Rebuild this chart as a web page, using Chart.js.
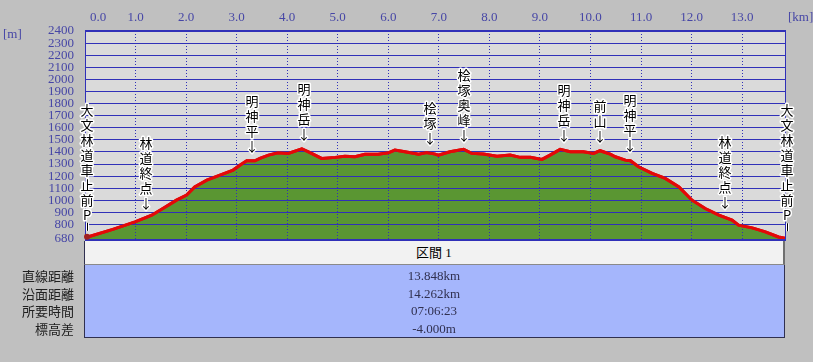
<!DOCTYPE html>
<html>
<head>
<meta charset="utf-8">
<script src="https://cdn.jsdelivr.net/npm/chart.js@4.4.1/dist/chart.umd.min.js"></script>
<style>
html, body { margin: 0; padding: 0; background: #c0c0c0; }
#wrap { position: relative; width: 813px; height: 362px; overflow: hidden; }
#chart { position: absolute; left: 0; top: 0; }
.unit { position: absolute; font: 13px "Liberation Serif", serif; color: #4646a6; line-height: 16px; }
#head { position: absolute; left: 84px; top: 241px; width: 698px; height: 23px; background: #f2f2f2;
  border-left: 1px solid #303050; border-right: 2px solid #707070; border-bottom: 1px solid #8a8a8a;
  text-align: center; font: 13px "Liberation Serif", "Noto Sans CJK JP", serif; line-height: 24px; color: #000; }
#body { position: absolute; left: 84px; top: 265px; width: 699px; height: 72px; background: #a5b6fc;
  border: 1px solid #303050; border-top: none; }
.row { position: absolute; height: 18px; line-height: 18px; font-size: 13px; }
.lab { left: 0; width: 74px; text-align: right; font-family: "Noto Sans CJK JP", sans-serif; color: #202020; }
.val { left: 84px; width: 700px; text-align: center; font-family: "Liberation Serif", serif; color: #303050; }
</style>
</head>
<body>
<div id="wrap">
  <canvas id="chart" width="813" height="362"></canvas>
  <div class="unit" style="left:3px;top:26px;">[m]</div>
  <div class="unit" style="left:788px;top:9px;">[km]</div>
  <div id="head"></div>
  <div id="body"></div>
</div>
<script>
// 距離 [km] と 標高 [m]
var distKm = [0, 0.55, 0.99, 1.32, 1.54, 1.81, 2.01, 2.17, 2.41, 2.67, 2.93, 3.07, 3.20, 3.36, 3.46,
  3.63, 3.82, 4.02, 4.29, 4.42, 4.68, 4.95, 5.14, 5.34, 5.54, 5.80, 6.00, 6.13, 6.33, 6.60,
  6.76, 6.93, 6.99, 7.22, 7.49, 7.65, 7.88, 8.15, 8.41, 8.61, 8.81, 9.04, 9.20, 9.40, 9.60,
  9.86, 10.06, 10.19, 10.39, 10.49, 10.69, 10.79, 10.95, 11.22, 11.48, 11.75, 12.01, 12.27,
  12.54, 12.80, 12.93, 13.20, 13.46, 13.72, 13.848];
var elevM = [690, 759, 822, 877, 932, 1001, 1043, 1111, 1167, 1208, 1250, 1291, 1327, 1327, 1346,
  1374, 1393, 1388, 1425, 1401, 1346, 1355, 1365, 1360, 1380, 1380, 1393, 1415, 1401, 1382,
  1396, 1382, 1374, 1401, 1421, 1388, 1382, 1365, 1374, 1355, 1355, 1338, 1374, 1421, 1401,
  1401, 1388, 1410, 1382, 1360, 1332, 1327, 1277, 1222, 1181, 1111, 1001, 932,
  877, 836, 794, 772, 739, 697, 686];

var xTicks = [0, 1, 2, 3, 4, 5, 6, 7, 8, 9, 10, 11, 12, 13];
var yTicks = [680, 800, 900, 1000, 1100, 1200, 1300, 1400, 1500, 1600, 1700, 1800, 1900,
  2000, 2100, 2200, 2300, 2400];

var waypointNames = ["大文林道車止前P", "林道終点", "明神平", "明神岳", "桧塚", "桧塚奥峰",
  "明神岳", "前山", "明神平", "林道終点", "大文林道車止前P"];
var waypointKm = [0, 1.16, 3.26, 4.29, 6.79, 7.46, 9.44, 10.15, 10.75, 12.63, 13.848];

var sectionName = "区間 1";
var rowLabels = ["直線距離", "沿面距離", "所要時間", "標高差"];
var rowValues = ["13.848km", "14.262km", "07:06:23", "-4.000m"];

// 表
document.getElementById("head").textContent = sectionName;
var wrap = document.getElementById("wrap");
for (var i = 0; i < rowLabels.length; i++) {
  var rowTop = 267 + i * 17.6;
  var l = document.createElement("div");
  l.className = "row lab";
  l.style.top = rowTop + "px";
  l.textContent = rowLabels[i];
  wrap.appendChild(l);
  var v = document.createElement("div");
  v.className = "row val";
  v.style.top = rowTop + "px";
  v.textContent = rowValues[i];
  wrap.appendChild(v);
}

function elevAt(km) {
  for (var i = 1; i < distKm.length; i++) {
    if (km <= distKm[i]) {
      var t = (km - distKm[i - 1]) / (distKm[i] - distKm[i - 1]);
      return elevM[i - 1] + t * (elevM[i] - elevM[i - 1]);
    }
  }
  return elevM[elevM.length - 1];
}

var points = [];
for (var i = 0; i < distKm.length; i++) {
  points.push({x: distKm[i], y: elevM[i]});
}

var blue = "#3030b8";

var profilePlugin = {
  id: "profile",
  beforeDraw: function(chart) {
    var a = chart.chartArea, ctx = chart.ctx;
    ctx.save();
    ctx.fillStyle = "#dadada";
    ctx.fillRect(a.left, a.top, a.right - a.left, a.bottom - a.top);
    ctx.restore();
  },
  afterDraw: function(chart) {
    var ctx = chart.ctx, a = chart.chartArea;
    var xs = chart.scales.x, ys = chart.scales.y;

    // 線をグリッドの上に描き直す
    var meta = chart.getDatasetMeta(0);
    ctx.save();
    ctx.beginPath();
    ctx.rect(a.left - 2, a.top, a.right - a.left + 4, a.bottom - a.top + 1);
    ctx.clip();
    meta.dataset.draw(ctx, a);
    ctx.restore();

    // 枠
    ctx.save();
    ctx.strokeStyle = blue;
    ctx.lineWidth = 2;
    ctx.beginPath();
    ctx.moveTo(a.left, a.top); ctx.lineTo(a.right + 1, a.top);
    ctx.moveTo(a.left, a.bottom + 1); ctx.lineTo(a.right + 1, a.bottom + 1);
    ctx.stroke();
    ctx.lineWidth = 1;
    ctx.beginPath();
    ctx.moveTo(a.left + 0.5, a.top); ctx.lineTo(a.left + 0.5, a.bottom);
    ctx.moveTo(a.right + 0.5, a.top); ctx.lineTo(a.right + 0.5, a.bottom);
    ctx.stroke();
    ctx.restore();

    // 出発点のマーク
    ctx.save();
    ctx.fillStyle = "#a02020";
    ctx.beginPath();
    ctx.arc(a.left + 2, ys.getPixelForValue(elevM[0]) - 1, 3, 0, Math.PI * 2);
    ctx.fill();
    ctx.restore();

    // 地点名
    ctx.save();
    ctx.font = "13px 'Noto Sans CJK JP'";
    ctx.textAlign = "center";
    ctx.textBaseline = "middle";
    ctx.lineJoin = "round";
    for (var i = 0; i < waypointNames.length; i++) {
      var chars = Array.from(waypointNames[i]);
      var px = Math.round(xs.getPixelForValue(waypointKm[i])) + 2;
      var py = ys.getPixelForValue(elevAt(waypointKm[i]));
      var isEnd = chars[chars.length - 1] === "P";
      var lastY;
      if (isEnd) {
        lastY = py - 23;
        ctx.strokeStyle = "#ffffff";
        ctx.lineWidth = 3;
        ctx.beginPath(); ctx.moveTo(px + 0.5, py - 15); ctx.lineTo(px + 0.5, py - 7); ctx.stroke();
        ctx.strokeStyle = "#000000";
        ctx.lineWidth = 1;
        ctx.beginPath(); ctx.moveTo(px + 0.5, py - 15); ctx.lineTo(px + 0.5, py - 7); ctx.stroke();
      } else {
        chars.push("↓");
        lastY = py - 15;
      }
      for (var j = 0; j < chars.length; j++) {
        var cy = lastY - (chars.length - 1 - j) * 15;
        ctx.strokeStyle = "#ffffff";
        ctx.lineWidth = 3;
        ctx.strokeText(chars[j], px, cy);
        ctx.fillStyle = "#000000";
        ctx.fillText(chars[j], px, cy);
      }
    }
    ctx.restore();
  }
};

var ctx = document.getElementById("chart").getContext("2d");
var chart = new Chart(ctx, {
  type: "line",
  data: {
    datasets: [{
      data: points,
      borderColor: "#e40808",
      borderWidth: 3,
      backgroundColor: "#5a9632",
      fill: "start",
      pointRadius: 0,
      tension: 0
    }]
  },
  options: {
    responsive: false,
    animation: false,
    layout: { padding: { left: 0, top: 0, right: 28, bottom: 123 } },
    plugins: { legend: { display: false }, tooltip: { enabled: false } },
    scales: {
      x: {
        type: "linear",
        position: "top",
        min: 0,
        max: 13.848,
        afterBuildTicks: function(s) { s.ticks = xTicks.map(function(v) { return {value: v}; }); },
        afterFit: function(s) { s.height = 31; },
        ticks: {
          autoSkip: false,
          maxRotation: 0,
          padding: 6,
          color: "#4646a6",
          font: { family: "Liberation Serif", size: 13 },
          callback: function(v) { return v === 0 ? "        0.0" : v.toFixed(1); }
        },
        grid: { color: blue, lineWidth: 1, drawTicks: false, z: 1 },
        border: { display: false, dash: [1, 2] }
      },
      y: {
        min: 680,
        max: 2400,
        afterBuildTicks: function(s) { s.ticks = yTicks.map(function(v) { return {value: v}; }); },
        afterFit: function(s) { s.width = 85; },
        ticks: {
          autoSkip: false,
          padding: 11,
          color: "#4646a6",
          font: { family: "Liberation Serif", size: 13 },
          callback: function(v) { return String(v); }
        },
        grid: { color: blue, lineWidth: 1, drawTicks: false, z: 1 },
        border: { display: false }
      }
    }
  },
  plugins: [profilePlugin]
});
</script>
</body>
</html>
